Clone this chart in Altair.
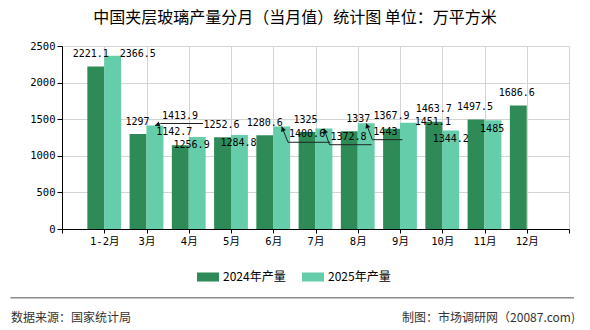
import math
import altair as alt
import pandas as pd

# Monthly output of laminated glass in China (10k m2)
categories = ["1-2月", "3月", "4月", "5月", "6月", "7月", "8月", "9月", "10月", "11月", "12月"]
prod_2024 = [2221.1, 1297, 1142.7, 1252.6, 1280.6, 1325, 1337, 1367.9, 1463.7, 1497.5, 1686.6]
prod_2025 = [2366.5, 1413.9, 1256.9, 1284.8, 1400.6, 1372.8, 1443, 1451.1, 1344.2, 1485, None]
series_names = ["2024年产量", "2025年产量"]
series_colors = ["#2E8B57", "#66CDAA"]
y_ticks = [0, 500, 1000, 1500, 2000, 2500]

# value-label nudges in pixels (right, down) from each bar's top centre
nudge_2024 = [(-5, -12), (-0.5, -12), (-6, -13), (-1, -12), (0, -12), (-1.5, -12),
              (9, -12), (0, -13), (0, -13), (-1, -12), (-1.5, -13)]
nudge_2025 = [(25, -1.3), (25, -10), (-5.6, 8), (-1, 8), (25.4, 7.8), (24.6, 8.2),
              (19.2, 8.3), (24.4, -1.1), (0, 8.4), (-0.8, 9), (0, 0)]
leader_2025 = [1, 4, 5, 6]  # 2025 labels tied back to their bars with a leader line

W, H = 507, 183
X_MIN, X_MAX = -1, 11
Y_MAX = 2500
PX_X = W / (X_MAX - X_MIN)
PX_Y = H / Y_MAX
BAR = 0.4
CHAR_W = 6.02

NUM_FONT = "DejaVu Sans Mono, Noto Sans CJK SC"
CJK_FONT = "Noto Sans CJK SC"


def fmt(v):
    return f"{v:g}"


bars, labels = [], []
for s, (name, vals, nudges) in enumerate(zip(series_names, [prod_2024, prod_2025], [nudge_2024, nudge_2025])):
    for k, v in enumerate(vals):
        if v is None:
            continue
        x0 = k - BAR if s == 0 else k
        center = x0 + BAR / 2
        dx, dy = nudges[k]
        bars.append({"series": name, "cat": categories[k], "x0": x0, "x1": x0 + BAR, "value": v})
        labels.append({"x0": center + dx / PX_X, "value": v - dy / PX_Y, "label": fmt(v)})

bars_df = pd.DataFrame(bars)
labels_df = pd.DataFrame(labels)

lines, heads = [], []
for k in leader_2025:
    v = prod_2025[k]
    center = k + BAR / 2
    dx, dy = nudge_2025[k]
    hw = len(fmt(v)) * CHAR_W / 2
    left = dx - hw - 1
    right = dx + hw + 5
    low = dy + 8
    pts = [(center, v), (center + left / PX_X, v - low / PX_Y), (center + right / PX_X, v - low / PX_Y)]
    for i, (px, py) in enumerate(pts):
        lines.append({"id": k, "order": i, "x0": px, "value": py})
    # arrowhead at the bar end, pointing from the elbow towards the bar
    vx, vy = -left, -low
    norm = math.hypot(vx, vy)
    ang = math.degrees(math.atan2(vx, -vy)) % 360
    back = 2.5
    heads.append({"x0": center - vx / norm * back / PX_X,
                  "value": v + vy / norm * back / PX_Y,
                  "ang": ang})

lines_df = pd.DataFrame(lines)
heads_df = pd.DataFrame(heads)

cat_array = "[" + ",".join(f"'{c}'" for c in categories) + "]"
x_scale = alt.Scale(domain=[X_MIN, X_MAX], nice=False, zero=False)
y_scale = alt.Scale(domain=[0, Y_MAX], nice=False)

x_axis = alt.Axis(
    values=list(range(X_MIN, X_MAX + 1)),
    labelExpr=f"datum.value >= 0 && datum.value < {len(categories)} ? {cat_array}[datum.value] : ''",
    title=None, grid=True, gridColor="#d4d4d4", gridWidth=1,
    domainColor="#000000", tickColor="#000000", tickSize=4,
    labelFont=NUM_FONT, labelFontSize=10.5, labelColor="#000000", labelPadding=3,
    labelFlush=False, labelOverlap=False,
)
y_axis = alt.Axis(
    values=y_ticks, format="d", title=None, grid=True, gridColor="#d4d4d4", gridWidth=1,
    domainColor="#000000", tickColor="#000000", tickSize=5,
    labelFont=NUM_FONT, labelFontSize=10.5, labelColor="#000000", labelPadding=2,
    labelOverlap=False,
)

X = alt.X("x0:Q", scale=x_scale, axis=x_axis)
Y = alt.Y("value:Q", scale=y_scale, axis=y_axis)

bar_layer = alt.Chart(bars_df).mark_bar().encode(
    x=X,
    x2="x1:Q",
    y=Y,
    y2=alt.datum(0),
    color=alt.Color(
        "series:N",
        scale=alt.Scale(domain=series_names, range=series_colors),
        legend=alt.Legend(
            title=None, orient="none", legendX=135, legendY=220, direction="horizontal",
            symbolType="M-1,-0.41H1V0.41H-1Z", symbolSize=484, symbolStrokeWidth=0,
            labelFont=CJK_FONT, labelFontSize=12, labelColor="#000000",
            labelOffset=4, columnPadding=16, padding=0,
        ),
    ),
)

label_layer = alt.Chart(labels_df).mark_text(
    font=NUM_FONT, fontSize=10, color="#000000", align="center", baseline="middle"
).encode(x=X, y=Y, text="label:N")

leader_layer = alt.Chart(lines_df).mark_line(color="#222222", strokeWidth=1).encode(
    x=X, y=Y, detail="id:N", order="order:Q",
)

head_layer = alt.Chart(heads_df).mark_point(
    shape="triangle-up", filled=True, size=28, color="#111111", opacity=1
).encode(x=X, y=Y, angle=alt.Angle("ang:Q", scale=None))

title_text = "中国夹层玻璃产量分月（当月值）统计图 单位：万平方米"
title_layer = alt.Chart(pd.DataFrame({"t": [title_text]})).mark_text(
    font=CJK_FONT, fontSize=16, color="#000000", align="center", baseline="middle"
).encode(text="t:N", x=alt.value(233), y=alt.value(-28.5))

footer_df = pd.DataFrame({"t": ["数据来源：国家统计局"]})
footer_left = alt.Chart(footer_df).mark_text(
    font=CJK_FONT, fontSize=12, color="#333333", align="left", baseline="middle"
).encode(text="t:N", x=alt.value(-51), y=alt.value(271.5))

credit_df = pd.DataFrame({"t": ["制图：市场调研网（20087.com)"]})
footer_right = alt.Chart(credit_df).mark_text(
    font=CJK_FONT, fontSize=12, color="#333333", align="right", baseline="middle"
).encode(text="t:N", x=alt.value(513), y=alt.value(271.5))

sep_layer = alt.Chart(pd.DataFrame({"a": [0]})).mark_rule(color="#8c8c8c", strokeWidth=1.5).encode(
    x=alt.value(-51.5), x2=alt.value(512), y=alt.value(251.7)
)

chart = alt.layer(
    bar_layer, leader_layer, head_layer, label_layer,
    title_layer, footer_left, footer_right, sep_layer,
).properties(
    width=W, height=H,
    autosize=alt.AutoSizeParams(type="none"),
    padding={"left": 62, "top": 46, "right": 590 - 62 - W, "bottom": 330 - 46 - H},
    background="#ffffff",
).configure_view(stroke=None)

chart.save("out.html", embed_options={"renderer": "svg", "actions": False})
